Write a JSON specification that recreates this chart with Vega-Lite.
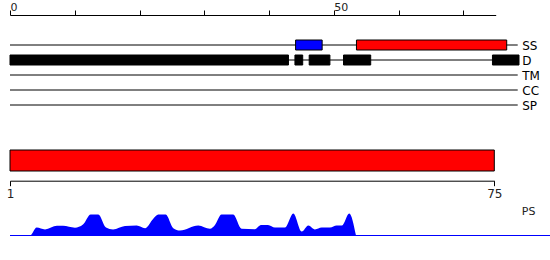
{
  "$schema": "https://vega.github.io/schema/vega-lite/v6.json",
  "width": 550,
  "height": 260,
  "autosize": "none",
  "padding": 0,
  "config": {"view": {"stroke": null}, "font": "DejaVu Sans"},
  "datasets": {
    "tracks": [{"track": "SS"}, {"track": "D"}, {"track": "TM"}, {"track": "CC"}, {"track": "SP"}],
    "features": [
      {"track": "SS", "kind": "strand", "start": 44.1, "end": 48.2},
      {"track": "SS", "kind": "helix", "start": 53.5, "end": 76.7},
      {"track": "D", "kind": "disorder", "start": 0, "end": 43.0},
      {"track": "D", "kind": "disorder", "start": 44.0, "end": 45.2},
      {"track": "D", "kind": "disorder", "start": 46.2, "end": 49.4},
      {"track": "D", "kind": "disorder", "start": 51.5, "end": 55.7},
      {"track": "D", "kind": "disorder", "start": 74.5, "end": 78.6}
    ],
    "ps": [
      {"pos": 1.0, "score": 0}, {"pos": 4.06, "score": 0}, {"pos": 5.08, "score": 0.38},
      {"pos": 6.35, "score": 0.29}, {"pos": 8.18, "score": 0.46}, {"pos": 9.1, "score": 0.46},
      {"pos": 10.93, "score": 0.37}, {"pos": 12.15, "score": 0.52}, {"pos": 13.33, "score": 1.0},
      {"pos": 14.49, "score": 1.0}, {"pos": 15.67, "score": 0.38}, {"pos": 16.74, "score": 0.29},
      {"pos": 18.57, "score": 0.45}, {"pos": 20.36, "score": 0.48}, {"pos": 21.63, "score": 0.35},
      {"pos": 22.89, "score": 0.8}, {"pos": 23.66, "score": 1.0}, {"pos": 24.79, "score": 1.0},
      {"pos": 25.95, "score": 0.35}, {"pos": 26.97, "score": 0.24}, {"pos": 29.77, "score": 0.48},
      {"pos": 31.56, "score": 0.32}, {"pos": 32.32, "score": 0.5}, {"pos": 33.32, "score": 1.0},
      {"pos": 35.1, "score": 1.0}, {"pos": 36.38, "score": 0.32}, {"pos": 38.43, "score": 0.3},
      {"pos": 39.35, "score": 0.5}, {"pos": 40.42, "score": 0.5}, {"pos": 41.49, "score": 0.38},
      {"pos": 43.02, "score": 0.38}, {"pos": 44.29, "score": 1.05}, {"pos": 45.57, "score": 0.19},
      {"pos": 46.58, "score": 0.48}, {"pos": 47.6, "score": 0.29}, {"pos": 48.62, "score": 0.38},
      {"pos": 49.89, "score": 0.38}, {"pos": 50.92, "score": 0.48}, {"pos": 51.73, "score": 0.48},
      {"pos": 52.84, "score": 1.05}, {"pos": 53.87, "score": 0}
    ]
  },
  "resolve": {
    "scale": {"x": "independent", "y": "independent"},
    "axis": {"x": "independent", "y": "independent"}
  },
  "layer": [
    {
      "data": {"name": "tracks"},
      "mark": {"type": "rule", "color": "black", "strokeWidth": 1},
      "encoding": {
        "x": {
          "datum": 0, "type": "quantitative",
          "scale": {"domain": [0, 75], "range": [10, 495.7], "nice": false, "zero": false},
          "axis": null
        },
        "x2": {"datum": 78.4},
        "y": {
          "field": "track", "type": "nominal",
          "scale": {"type": "point", "domain": ["SS", "D", "TM", "CC", "SP"], "range": [45, 105], "padding": 0},
          "axis": null
        }
      }
    },
    {
      "data": {"name": "features"},
      "mark": {"type": "bar", "size": 10, "stroke": "black", "strokeWidth": 1},
      "encoding": {
        "x": {
          "field": "start", "type": "quantitative",
          "scale": {"domain": [0, 75], "range": [10, 495.7], "nice": false, "zero": false},
          "axis": {
            "orient": "top", "offset": -15, "values": [0, 10, 20, 30, 40, 50, 60, 70],
            "tickSize": 5, "labelExpr": "datum.value % 50 == 0 ? datum.label : ''",
            "labelAlign": "left", "labelBaseline": "alphabetic", "labelPadding": 0,
            "labelFontSize": 11, "labelColor": "#222", "domainColor": "black",
            "tickColor": "black", "grid": false, "title": null, "labelFlush": false
          }
        },
        "x2": {"field": "end"},
        "y": {
          "field": "track", "type": "nominal",
          "scale": {"type": "point", "domain": ["SS", "D", "TM", "CC", "SP"], "range": [45, 105], "padding": 0},
          "axis": null
        },
        "color": {
          "field": "kind", "type": "nominal",
          "scale": {"domain": ["strand", "helix", "disorder"], "range": ["#0000ff", "#ff0000", "#000000"]},
          "legend": null
        }
      }
    },
    {
      "data": {"name": "tracks"},
      "mark": {"type": "text", "align": "left", "baseline": "middle", "fontSize": 12, "dy": 1, "color": "black"},
      "encoding": {
        "x": {
          "datum": 79.1, "type": "quantitative",
          "scale": {"domain": [0, 75], "range": [10, 495.7], "nice": false, "zero": false},
          "axis": null
        },
        "y": {
          "field": "track", "type": "nominal",
          "scale": {"type": "point", "domain": ["SS", "D", "TM", "CC", "SP"], "range": [45, 105], "padding": 0},
          "axis": null
        },
        "text": {"field": "track"}
      }
    },
    {
      "data": {"values": [{"region": "protein", "start": 1, "end": 75}]},
      "mark": {"type": "bar", "color": "#ff0000", "stroke": "black", "strokeWidth": 1},
      "encoding": {
        "x": {
          "field": "start", "type": "quantitative",
          "scale": {"domain": [1, 75], "range": [10, 494.3], "nice": false, "zero": false},
          "axis": {
            "orient": "bottom", "offset": -79.3, "values": [1, 75], "tickSize": 5,
            "labelPadding": 3, "labelFontSize": 12, "labelColor": "#222",
            "domainColor": "black", "tickColor": "black", "grid": false, "title": null,
            "labelFlush": false
          }
        },
        "x2": {"field": "end"},
        "y": {
          "field": "region", "type": "nominal",
          "scale": {"type": "band", "range": [150, 171], "paddingInner": 0, "paddingOuter": 0},
          "axis": null
        }
      }
    },
    {
      "data": {"name": "ps"},
      "mark": {"type": "area", "color": "#0000ff", "interpolate": "monotone"},
      "encoding": {
        "x": {
          "field": "pos", "type": "quantitative",
          "scale": {"domain": [1, 75], "range": [10, 494.3], "nice": false, "zero": false},
          "axis": null
        },
        "y": {
          "field": "score", "type": "quantitative",
          "scale": {"domain": [0, 1], "range": [235.5, 214.5], "nice": false},
          "axis": null
        }
      }
    },
    {
      "data": {"values": [{}]},
      "mark": {"type": "rule", "color": "#0000ff", "strokeWidth": 1},
      "encoding": {
        "x": {
          "datum": 1, "type": "quantitative",
          "scale": {"domain": [1, 75], "range": [10, 494.3], "nice": false, "zero": false},
          "axis": null
        },
        "x2": {"datum": 84},
        "y": {
          "datum": 0, "type": "quantitative",
          "scale": {"domain": [0, 1], "range": [235.5, 214.5], "nice": false},
          "axis": null
        }
      }
    },
    {
      "data": {"values": [{"label": "PS"}]},
      "mark": {"type": "text", "align": "left", "baseline": "middle", "fontSize": 11, "color": "#222"},
      "encoding": {
        "x": {
          "datum": 79.2, "type": "quantitative",
          "scale": {"domain": [1, 75], "range": [10, 494.3], "nice": false, "zero": false},
          "axis": null
        },
        "y": {
          "datum": 1.14, "type": "quantitative",
          "scale": {"domain": [0, 1], "range": [235.5, 214.5], "nice": false},
          "axis": null
        },
        "text": {"field": "label"}
      }
    }
  ]
}
